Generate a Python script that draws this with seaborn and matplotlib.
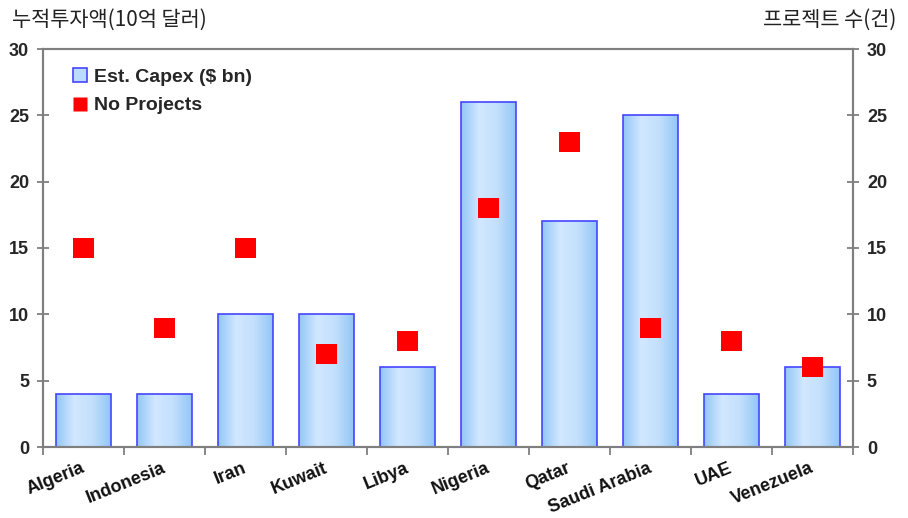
import numpy as np
import pandas as pd
import matplotlib
matplotlib.use("Agg")
import matplotlib.pyplot as plt
import matplotlib.transforms as mtransforms
from matplotlib.colors import LinearSegmentedColormap
from matplotlib.patches import Patch
from matplotlib.lines import Line2D
import seaborn as sns

countries = ["Algeria", "Indonesia", "Iran", "Kuwait", "Libya", "Nigeria",
             "Qatar", "Saudi Arabia", "UAE", "Venezuela"]
capex_bn = [4, 4, 10, 10, 6, 26, 17, 25, 4, 6]
n_projects = [15, 9, 15, 7, 8, 18, 23, 9, 8, 6]

left_title = "누적투자액(10억 달러)"
right_title = "프로젝트 수(건)"
legend_labels = ["Est. Capex ($ bn)", "No Projects"]

df = pd.DataFrame({"country": countries, "capex": capex_bn, "projects": n_projects})

sns.set_theme(style="white")
plt.rcParams["font.family"] = ["Liberation Sans", "Noto Sans CJK KR", "DejaVu Sans"]

fig = plt.figure(figsize=(9.08, 5.18), dpi=100)
ax = fig.add_axes([43 / 908, 1 - 447 / 518, 810 / 908, 398 / 518])

sns.barplot(data=df, x="country", y="capex", ax=ax, width=0.67,
            color="#bcdcff", edgecolor="#4545ff", linewidth=1.2, saturation=1)

# horizontal gradient fill inside each bar
grad_cmap = LinearSegmentedColormap.from_list(
    "barfill", ["#92c6f6", "#d2e8ff", "#c2dffc", "#92c6f6"])
grad = np.linspace(0, 1, 256).reshape(1, -1)
for bar in ax.patches:
    x0, y0 = bar.get_x(), bar.get_y()
    w, h = bar.get_width(), bar.get_height()
    im = ax.imshow(grad, cmap=grad_cmap, aspect="auto",
                   extent=[x0, x0 + w, y0, y0 + h], zorder=bar.get_zorder() - 0.1,
                   interpolation="bicubic")
    im.set_clip_path(bar)
    bar.set_facecolor("none")

ax.set_xlim(-0.5, len(countries) - 0.5)
ax.set_ylim(0, 30)
ax.set_yticks(range(0, 31, 5))
ax.set_xlabel("")
ax.set_ylabel("")

ax2 = ax.twinx()
sns.scatterplot(data=df, x="country", y="projects", ax=ax2, marker="s",
                s=210, color="#ff0000", edgecolor="none", linewidth=0, zorder=5)
ax2.set_ylim(0, 30)
ax2.set_yticks(range(0, 31, 5))
ax2.set_ylabel("")
ax2.set_xlim(-0.5, len(countries) - 0.5)

spine_col = "#7f7f7f"
for a in (ax, ax2):
    for s in a.spines.values():
        s.set_visible(True)
        s.set_color(spine_col)
        s.set_linewidth(1.5)
ax.spines["top"].set_color("#a0a0a0")

ax.tick_params(axis="y", which="major", direction="inout", length=8, width=1.3,
               color=spine_col, labelsize=13, pad=6, left=True)
ax2.tick_params(axis="y", which="major", direction="inout", length=8, width=1.3,
                color=spine_col, labelsize=13, pad=6, right=True)
for lab in ax.get_yticklabels() + ax2.get_yticklabels():
    lab.set_fontweight("bold")

# category labels at bar centres, tick marks at category boundaries
ax.set_xticks(range(len(countries)))
ax.set_xticklabels(countries, rotation=22, ha="right", rotation_mode="anchor",
                   fontsize=13, fontweight="bold", color="#111111")
ax.tick_params(axis="x", which="major", length=0, pad=9)
shift = mtransforms.ScaledTranslation(-3 / 100, 0, fig.dpi_scale_trans)
for lab in ax.get_xticklabels():
    lab.set_transform(lab.get_transform() + shift)
ax.set_xticks(np.arange(-0.5, len(countries) + 0.5, 1), minor=True)
ax.tick_params(axis="x", which="minor", direction="out", length=6, width=1.3,
               color=spine_col, bottom=True)
ax2.tick_params(axis="x", which="both", length=0)

handles = [Patch(facecolor="#bcdcff", edgecolor="#4545ff", linewidth=1.2),
           Line2D([], [], marker="s", linestyle="none", markersize=10,
                  markerfacecolor="#ff0000", markeredgecolor="none")]
leg = ax.legend(handles, legend_labels, loc="upper left", bbox_to_anchor=(0.016, 0.995),
                frameon=False, prop={"weight": "bold", "size": 14},
                handlelength=0.7, handleheight=0.7, handletextpad=0.35,
                labelspacing=0.55)
leg.set_zorder(10)

fig.text(12 / 908, 1 - 20 / 518, left_title, ha="left", va="center",
         fontsize=15, family=["Noto Sans CJK KR"], color="#222222")
fig.text(896 / 908, 1 - 20 / 518, right_title, ha="right", va="center",
         fontsize=15, family=["Noto Sans CJK KR"], color="#222222")

fig.savefig("out.png", dpi=100)
